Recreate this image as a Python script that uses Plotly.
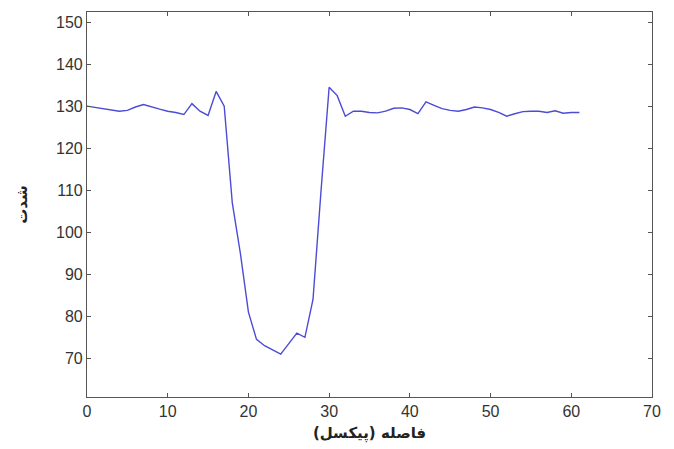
import plotly.graph_objects as go

x_vals = list(range(0, 62))
intensity = [
    130.0, 129.7, 129.4, 129.2, 128.8, 129.0, 129.8, 130.4, 129.8, 129.3,
    128.8, 128.5, 128.0, 130.6, 128.8, 127.8, 133.5, 130.0, 107.0, 95.0,
    81.0, 74.5, 73.0, 72.0, 71.0, 73.5, 76.0, 75.0, 84.0, 110.0,
    134.5, 132.5, 127.6, 128.8, 128.8, 128.5, 128.4, 128.8, 129.5, 129.6,
    129.2, 128.2, 131.0, 130.2, 129.4, 129.0, 128.8, 129.2, 129.8, 129.6,
    129.2, 128.5, 127.6, 128.2, 128.7, 128.8, 128.8, 128.5, 128.9, 128.3,
    128.5, 128.5,
]
x_ticks = [0, 10, 20, 30, 40, 50, 60, 70]
y_ticks = [70, 80, 90, 100, 110, 120, 130, 140, 150]
x_title = "فاصله (پیکسل)"
y_title = "شدت"

fig = go.Figure()
fig.add_trace(go.Scatter(
    x=x_vals, y=intensity, mode="lines",
    line=dict(color="#4b4bd6", width=1.4),
    showlegend=False,
))

axis_common = dict(
    showgrid=False, zeroline=False, showline=True, linecolor="#555555",
    linewidth=1.2, mirror="allticks", ticks="inside", ticklen=4,
    tickcolor="#555555", tickfont=dict(family="Liberation Sans, Arial", size=16, color="#333333"),
)
title_font = dict(family="DejaVu Sans", size=15, color="#222222", weight="bold")
fig.update_xaxes(range=[0, 70], tickvals=x_ticks, **axis_common,
                 title=dict(text=x_title, font=title_font, standoff=8))
fig.update_yaxes(range=[60.8, 152.4], tickvals=y_ticks, **axis_common,
                 title=dict(text=y_title, font=title_font, standoff=24))

# page body has an 8px default margin, so the figure is sized/offset to compensate
fig.update_layout(
    width=666, height=441,
    margin=dict(l=79, r=22, t=4, b=52),
    paper_bgcolor="white", plot_bgcolor="white",
)
fig.write_html("out.html")
